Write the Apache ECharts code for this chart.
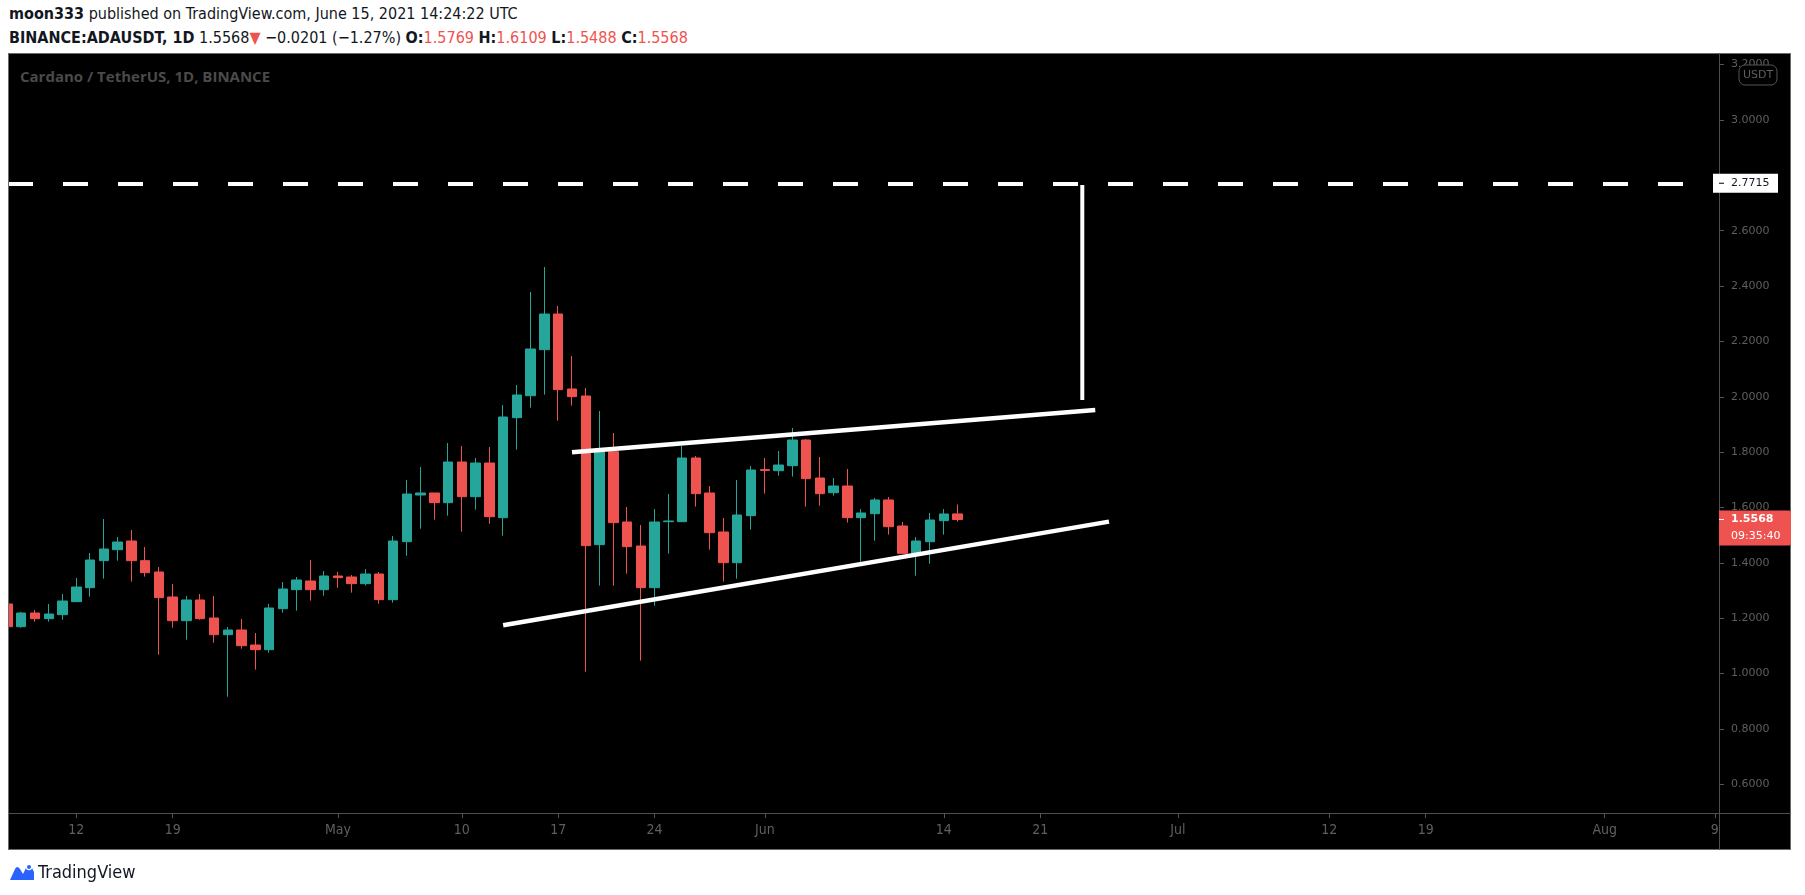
<!DOCTYPE html>
<html>
<head>
<meta charset="utf-8">
<script src="https://cdn.jsdelivr.net/npm/echarts@6/dist/echarts.min.js"></script>
<style>
html,body{margin:0;padding:0;background:#fff;width:1805px;height:895px;overflow:hidden;}
.hdr{position:absolute;left:9px;font-family:'Liberation Sans Narrow','DejaVu Sans Condensed','Roboto',sans-serif;font-size:16px;color:#131722;white-space:nowrap;line-height:20px;}
#hdr1{top:4px}
#hdr2{top:28px}
.b{font-weight:bold}
.r{color:#ef5350}
#pane{position:absolute;left:8px;top:53px;width:1783px;height:797px;background:#000;border:1px solid #6a6a6a;box-sizing:border-box}
#hsep{position:absolute;left:8px;top:813px;width:1783px;height:1px;background:#4e4e4e}
#vsep{position:absolute;left:1719px;top:53px;width:1px;height:797px;background:#4e4e4e}
#leftMask{position:absolute;left:0;top:53px;width:8px;height:797px;background:#fff;border-right:1px solid #6a6a6a;z-index:5}
#chart{position:absolute;left:0;top:0;width:1805px;height:895px}
#pairTitle{position:absolute;left:20px;top:66px;font-family:'Open Sans','DejaVu Sans',sans-serif;font-weight:bold;font-size:15px;color:#4a4a4a;white-space:nowrap}
#footer{position:absolute;left:9px;top:861px;display:flex;align-items:center;font-family:'Liberation Sans Narrow','DejaVu Sans Condensed',sans-serif;font-size:18px;color:#131722}
#footer svg{margin-right:3px}
</style>
</head>
<body>
<div id="pane"></div>
<div id="hsep"></div>
<div id="vsep"></div>
<div id="hdr1" class="hdr"><span class="b">moon333</span> published on TradingView.com, June 15, 2021 14:24:22 UTC</div>
<div id="hdr2" class="hdr"><span class="b">BINANCE:ADAUSDT, 1D</span> 1.5568<span class="r">▼</span> −0.0201 (−1.27%) <span class="b">O:</span><span class="r">1.5769</span> <span class="b">H:</span><span class="r">1.6109</span> <span class="b">L:</span><span class="r">1.5488</span> <span class="b">C:</span><span class="r">1.5568</span></div>
<div id="pairTitle">Cardano / TetherUS, 1D, BINANCE</div>
<div id="chart"></div>
<div id="leftMask"></div>
<div id="footer"><svg width="26" height="20" viewBox="0 0 26 20"><path d="M1 18 L6 7 Q8 3 11 7 L14 12 L18 4 Q20 1 22 4 L25 10 L25 18 Z" fill="#2962ff"/><circle cx="20" cy="5" r="3.2" fill="#fff"/><circle cx="20" cy="5" r="2" fill="#2962ff"/></svg><span>TradingView</span></div>
<script>
// Day offsets are counted from 2021-04-12 (day 0). First candle: 2021-04-07.
const firstDay = -5;
const openV  = [1.2514,1.1695,1.2189,1.1984,1.2129,1.2599,1.3104,1.4080,1.4477,1.4790,
                1.4080,1.3671,1.2767,1.1912,1.2659,1.2009,1.1406,1.1575,1.1033,1.0864,
                1.2346,1.3032,1.3345,1.3032,1.3526,1.3490,1.3249,1.3598,1.2671,1.4766,
                1.6452,1.6525,1.6175,1.7644,1.6392,1.7608,1.5633,1.9246,2.0041,2.1703,
                2.2991,2.0282,2.0029,1.4658,1.8018,1.5477,1.4610,1.3104,1.5489,1.5489,
                1.7789,1.6525,1.5116,1.4008,1.5706,1.7370,1.7331,1.7512,1.8439,1.7066,
                1.6536,1.6777,1.5633,1.5778,1.6272,1.5332,1.4345,1.4766,1.5525,1.5769];
const closeV = [1.1695,1.2189,1.1984,1.2153,1.2623,1.3128,1.4104,1.4501,1.4754,1.4080,
                1.3646,1.2743,1.1912,1.2659,1.1984,1.1406,1.1575,1.1009,1.0864,1.2370,
                1.3056,1.3382,1.3032,1.3526,1.3466,1.3249,1.3598,1.2671,1.4790,1.6488,
                1.6525,1.6175,1.7644,1.6392,1.7608,1.5669,1.9270,2.0065,2.1727,2.2991,
                2.0258,2.0005,1.4622,1.8018,1.5453,1.4586,1.3104,1.5477,1.5513,1.7789,
                1.6500,1.5091,1.4008,1.5730,1.7355,1.7340,1.7536,1.8439,1.7042,1.6500,
                1.6777,1.5633,1.5802,1.6272,1.5308,1.4345,1.4790,1.5549,1.5766,1.5568];
const lowV   = [1.1650,1.1659,1.1876,1.1876,1.1948,1.2587,1.2779,1.3429,1.4080,1.3321,
                1.3502,1.0684,1.1659,1.1226,1.1948,1.1117,0.9166,1.0900,1.0142,1.0756,
                1.2201,1.2274,1.2635,1.2815,1.3104,1.2924,1.3177,1.2526,1.2562,1.4260,
                1.5236,1.5561,1.5706,1.5128,1.5922,1.5417,1.4983,1.8090,1.9607,2.0077,
                1.9138,1.9680,1.0070,1.3177,1.3177,1.3610,1.0467,1.2454,1.4333,1.5489,
                1.6031,1.4477,1.3321,1.3429,1.5200,1.6500,1.7151,1.7115,1.6031,1.6067,
                1.6428,1.5453,1.4044,1.4802,1.5019,1.4333,1.3538,1.3972,1.5019,1.5488];
const highV  = [1.2600,1.2225,1.2298,1.2514,1.2876,1.3454,1.4357,1.5585,1.4935,1.5188,
                1.4574,1.3851,1.3237,1.2803,1.2876,1.2803,1.1684,1.1973,1.1467,1.2514,
                1.3309,1.3490,1.4104,1.3707,1.3671,1.3562,1.3779,1.3671,1.4971,1.6994,
                1.7464,1.6525,1.8331,1.8223,1.7789,1.8186,1.9704,2.0426,2.3786,2.4689,
                2.3280,2.1474,2.0318,1.9487,1.8692,1.6019,1.5368,1.5947,1.6488,1.8223,
                1.7861,1.6777,1.5621,1.6994,1.7500,1.7789,1.8042,1.8873,1.8475,1.7825,
                1.7066,1.7392,1.5947,1.6344,1.6380,1.5477,1.4935,1.5802,1.5947,1.6109];

const xTickDays   = [0, 7, 19, 28, 35, 42, 50, 63, 70, 80, 91, 98, 111, 119];
const xTickLabels = ['12','19','May','10','17','24','Jun','14','21','Jul','12','19','Aug','9'];
const yTickValues = [0.6,0.8,1.0,1.2,1.4,1.6,1.8,2.0,2.2,2.4,2.6,3.0,3.2];

const targetLevel = 2.7715;
const lastPrice = 1.5568;
const countdown = '09:35:40';
const upperWedge = [[36, 1.800], [74, 1.952]];
const lowerWedge = [[31, 1.1745], [75, 1.549]];
const targetMove = [[73.06, 2.765], [73.06, 1.988]];
const targetText = {pos: [76.2, 2.91], text: 'Next target can be $2.5'};
const wedgeText  = {pos: [55.8, 2.187], text: 'Rising Wedge'};

const X_MIN = -4.96, X_MAX = 119.3, Y_MIN = 0.4964, Y_MAX = 3.2384;

const candleData = openV.map((o, i) => [firstDay + i, o, closeV[i], lowV[i], highV[i]]);
const labelMap = {};
xTickDays.forEach((d, i) => { labelMap[d] = xTickLabels[i]; });

const chart = echarts.init(document.getElementById('chart'), null, {renderer: 'canvas'});
const UP = '#26a69a', DOWN = '#ef5350';
const axisTxt = '#5f5f5f';

chart.setOption({
  backgroundColor: 'transparent',
  animation: false,
  grid: {left: 8, right: 86, top: 54, bottom: 82, containLabel: false},
  xAxis: {
    type: 'value', min: X_MIN, max: X_MAX,
    axisLine: {show: false, onZero: false},
    splitLine: {show: false},
    axisTick: {show: true, customValues: xTickDays, length: 5, lineStyle: {color: '#555'}},
    axisLabel: {
      customValues: xTickDays, margin: 10, color: axisTxt,
      fontFamily: "'Liberation Sans Narrow','DejaVu Sans Condensed',sans-serif", fontSize: 14,
      formatter: v => labelMap[Math.round(v)] || ''
    }
  },
  yAxis: {
    type: 'value', position: 'right', min: Y_MIN, max: Y_MAX, scale: true,
    axisLine: {show: false, onZero: false},
    splitLine: {show: false},
    axisTick: {show: true, customValues: yTickValues, length: 5, lineStyle: {color: '#555'}},
    axisLabel: {
      customValues: yTickValues, margin: 12, color: axisTxt,
      fontFamily: "'DejaVu Sans',sans-serif", fontSize: 11,
      formatter: v => v.toFixed(4)
    }
  },
  series: [
    {
      type: 'candlestick', data: candleData,
      encode: {x: 0, y: [1, 2, 3, 4]},
      barWidth: 10, clip: true, silent: true,
      itemStyle: {color: UP, color0: DOWN, borderColor: UP, borderColor0: DOWN, borderWidth: 1},
      markLine: {
        silent: true, symbol: 'none', animation: false,
        label: {show: false},
        lineStyle: {color: '#ffffff', width: 4, type: [25, 30], opacity: 1},
        data: [{yAxis: targetLevel}]
      },
      z: 2
    },
    {type: 'line', data: upperWedge, symbol: 'none', silent: true, lineStyle: {color: '#fff', width: 4.5}, z: 5},
    {type: 'line', data: lowerWedge, symbol: 'none', silent: true, lineStyle: {color: '#fff', width: 4.5}, z: 5},
    {type: 'line', data: targetMove, symbol: 'none', silent: true, lineStyle: {color: '#fff', width: 4}, z: 5},
    {
      type: 'scatter', symbolSize: 1, silent: true, itemStyle: {opacity: 0},
      data: [targetText.pos],
      label: {show: true, position: 'inside', formatter: targetText.text, color: '#e9e9e9',
              fontFamily: "'Open Sans','DejaVu Sans',sans-serif", fontWeight: 'bold', fontSize: 17},
      z: 6
    },
    {
      type: 'scatter', symbolSize: 1, silent: true, itemStyle: {opacity: 0},
      data: [wedgeText.pos],
      label: {show: true, position: 'inside', formatter: wedgeText.text, color: '#e9e9e9',
              fontFamily: "'Open Sans','DejaVu Sans',sans-serif", fontWeight: 'bold', fontSize: 21},
      z: 6
    }
  ]
});

const yT = chart.convertToPixel({yAxisIndex: 0}, targetLevel);
const yP = chart.convertToPixel({yAxisIndex: 0}, lastPrice);
const yTop = chart.convertToPixel({yAxisIndex: 0}, Y_MAX);
const axX = chart.convertToPixel({xAxisIndex: 0}, X_MAX);

chart.setOption({
  graphic: [
    {type: 'rect', shape: {x: axX - 6, y: yT - 9.5, width: 65, height: 19}, style: {fill: '#ffffff'}, z: 100},
    {type: 'line', shape: {x1: axX, y1: yT, x2: axX + 5, y2: yT}, style: {stroke: '#000', lineWidth: 1}, z: 101},
    {type: 'text', x: axX + 12, y: yT, style: {text: targetLevel.toFixed(4), fill: '#131722', font: "11px 'DejaVu Sans'", verticalAlign: 'middle'}, z: 101},
    {type: 'rect', shape: {x: axX, y: yP - 9, width: 72, height: 35, r: [0, 2, 2, 0]}, style: {fill: '#ef5350'}, z: 100},
    {type: 'line', shape: {x1: axX, y1: yP, x2: axX + 5, y2: yP}, style: {stroke: '#fff', lineWidth: 1}, z: 101},
    {type: 'text', x: axX + 12, y: yP, style: {text: lastPrice.toFixed(4), fill: '#ffffff', font: "bold 11px 'DejaVu Sans'", verticalAlign: 'middle'}, z: 101},
    {type: 'text', x: axX + 12, y: yP + 17, style: {text: countdown, fill: '#ffffff', font: "11px 'DejaVu Sans'", verticalAlign: 'middle'}, z: 101},
    {type: 'rect', shape: {x: axX + 20, y: yTop + 11, width: 38, height: 20, r: 6}, style: {fill: '#000', stroke: '#555', lineWidth: 1}, z: 100},
    {type: 'text', x: axX + 39, y: yTop + 21, style: {text: 'USDT', fill: '#5f5f5f', font: "11px 'DejaVu Sans'", align: 'center', verticalAlign: 'middle'}, z: 101}
  ]
});
</script>
</body>
</html>
